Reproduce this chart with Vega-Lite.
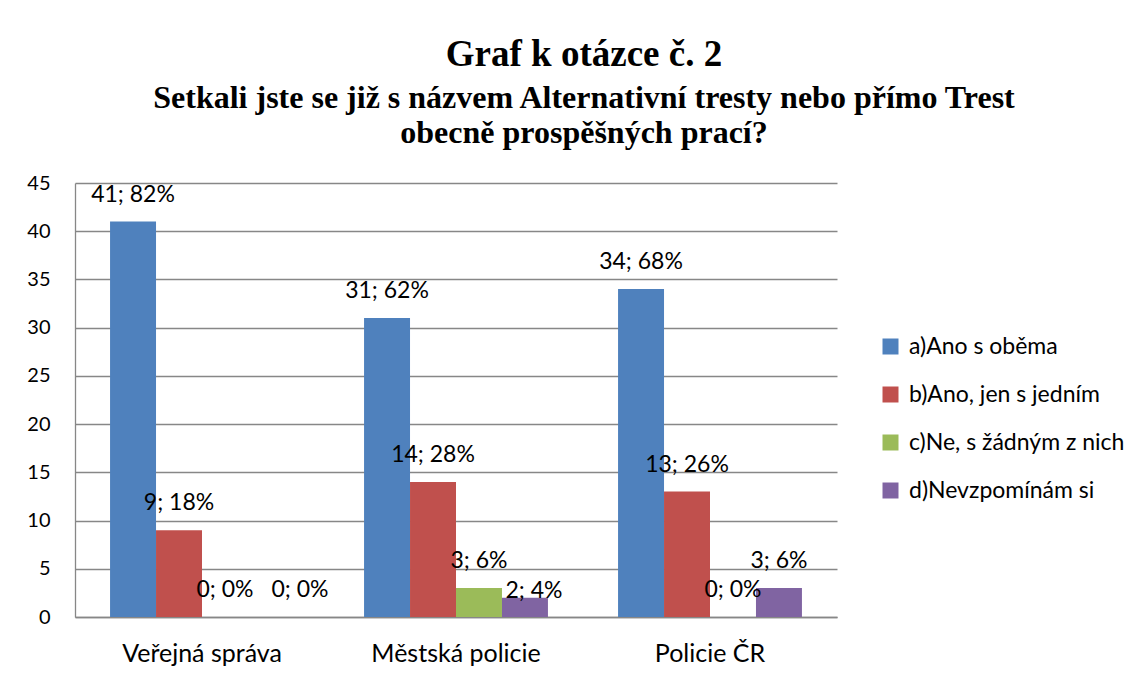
{
  "$schema": "https://vega.github.io/schema/vega-lite/v6.json",
  "autosize": {"type": "none"},
  "width": 762,
  "height": 434,
  "padding": {"left": 75, "top": 183, "right": 310, "bottom": 60},
  "background": "white",
  "title": {
    "text": "Graf k otázce č. 2",
    "subtitle": ["Setkali jste se již s názvem Alternativní tresty nebo přímo Trest", "obecně prospěšných prací?"],
    "anchor": "middle",
    "frame": "group",
    "dx": 128,
    "offset": 23,
    "font": "Liberation Serif",
    "fontSize": 37,
    "fontWeight": "bold",
    "color": "black",
    "subtitleFont": "Liberation Serif",
    "subtitleFontSize": 32,
    "subtitleFontWeight": "bold",
    "subtitleColor": "black",
    "subtitleLineHeight": 35,
    "subtitlePadding": 9
  },
  "data": {
    "values": [
      {"group": "Veřejná správa", "answer": "a)Ano s oběma", "count": 41, "label": "41; 82%"},
      {"group": "Veřejná správa", "answer": "b)Ano, jen s jedním", "count": 9, "label": "9; 18%"},
      {"group": "Veřejná správa", "answer": "c)Ne, s žádným z nich", "count": 0, "label": "0; 0%"},
      {"group": "Veřejná správa", "answer": "d)Nevzpomínám si", "count": 0, "label": "0; 0%"},
      {"group": "Městská policie", "answer": "a)Ano s oběma", "count": 31, "label": "31; 62%"},
      {"group": "Městská policie", "answer": "b)Ano, jen s jedním", "count": 14, "label": "14; 28%"},
      {"group": "Městská policie", "answer": "c)Ne, s žádným z nich", "count": 3, "label": "3; 6%"},
      {"group": "Městská policie", "answer": "d)Nevzpomínám si", "count": 2, "label": "2; 4%"},
      {"group": "Policie ČR", "answer": "a)Ano s oběma", "count": 34, "label": "34; 68%"},
      {"group": "Policie ČR", "answer": "b)Ano, jen s jedním", "count": 13, "label": "13; 26%"},
      {"group": "Policie ČR", "answer": "c)Ne, s žádným z nich", "count": 0, "label": "0; 0%"},
      {"group": "Policie ČR", "answer": "d)Nevzpomínám si", "count": 3, "label": "3; 6%"}
    ]
  },
  "encoding": {
    "x": {
      "field": "group", "type": "nominal", "sort": null,
      "scale": {"paddingInner": 0.276, "paddingOuter": 0.138},
      "axis": {
        "title": null, "labelAngle": 0, "ticks": false, "labelPadding": 24,
        "labelFont": "Lato", "labelFontSize": 25, "labelColor": "black",
        "domainColor": "#878787", "domainWidth": 1.3
      }
    },
    "xOffset": {
      "field": "answer", "type": "nominal", "sort": null,
      "scale": {"paddingInner": 0, "paddingOuter": 0}
    },
    "y": {
      "field": "count", "type": "quantitative",
      "scale": {"domain": [0, 45], "nice": false},
      "axis": {
        "title": null, "values": [0, 5, 10, 15, 20, 25, 30, 35, 40, 45],
        "ticks": false, "labelPadding": 25,
        "labelFont": "Lato", "labelFontSize": 20, "labelColor": "black",
        "grid": true, "gridColor": "#878787", "gridWidth": 1.3,
        "domainColor": "#878787", "domainWidth": 1.3
      }
    }
  },
  "layer": [
    {
      "mark": {"type": "bar"},
      "encoding": {
        "color": {
          "field": "answer", "type": "nominal", "sort": null,
          "scale": {
            "domain": ["a)Ano s oběma", "b)Ano, jen s jedním", "c)Ne, s žádným z nich", "d)Nevzpomínám si"],
            "range": ["#4F81BD", "#C0504D", "#9BBB59", "#8064A2"]
          },
          "legend": {
            "title": null, "orient": "none", "legendX": 804, "legendY": 152,
            "symbolType": "square", "symbolSize": 256, "symbolStrokeWidth": 0,
            "labelFont": "Lato", "labelFontSize": 23, "labelColor": "black",
            "labelOffset": 7, "rowPadding": 24, "padding": 0, "labelLimit": 300
          }
        }
      }
    },
    {
      "transform": [{"filter": "!((datum.group == 'Veřejná správa' && datum.answer == 'd)Nevzpomínám si') || (datum.group == 'Městská policie' && datum.answer == 'd)Nevzpomínám si'))"}],
      "mark": {"type": "text", "baseline": "alphabetic", "dy": -20, "font": "Lato", "fontSize": 23, "color": "black"},
      "encoding": {"text": {"field": "label"}}
    },
    {
      "transform": [{"filter": "datum.group == 'Veřejná správa' && datum.answer == 'd)Nevzpomínám si'"}],
      "mark": {"type": "text", "baseline": "alphabetic", "dy": -20, "dx": 29, "font": "Lato", "fontSize": 23, "color": "black"},
      "encoding": {"text": {"field": "label"}}
    },
    {
      "transform": [{"filter": "datum.group == 'Městská policie' && datum.answer == 'd)Nevzpomínám si'"}],
      "mark": {"type": "text", "baseline": "alphabetic", "dy": 0, "dx": 9, "font": "Lato", "fontSize": 23, "color": "black"},
      "encoding": {"text": {"field": "label"}}
    }
  ],
  "config": {
    "view": {"stroke": null}
  }
}
